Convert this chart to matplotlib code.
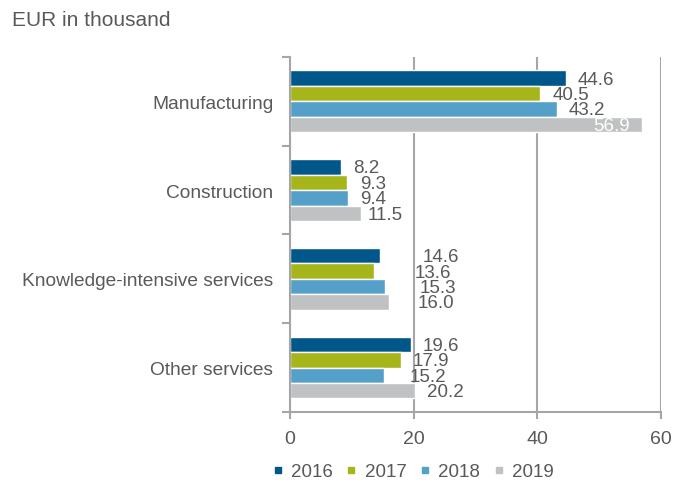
import numpy as np
import matplotlib.pyplot as plt
from matplotlib.lines import Line2D

plt.rcParams['font.family'] = ['Liberation Sans', 'DejaVu Sans']

# turnover per employee, EUR in thousand
sectors = ['Manufacturing', 'Construction', 'Knowledge-intensive services', 'Other services']
years = ['2016', '2017', '2018', '2019']
v2016 = [44.6, 8.2, 14.6, 19.6]
v2017 = [40.5, 9.3, 13.6, 17.9]
v2018 = [43.2, 9.4, 15.3, 15.2]
v2019 = [56.9, 11.5, 16.0, 20.2]
series = [v2016, v2017, v2018, v2019]

colors = ['#00578a', '#a5b51a', '#55a0c8', '#bfc1c3']
grey = '#a6a6a6'
txt = '#595959'

# label shift from the bar end (data units), per year then per sector
lab_dx = [[2.0, 2.0, 6.8, 1.9],
          [1.9, 2.0, 6.5, 2.0],
          [1.8, 1.9, 5.6, 4.2],
          [-1.9, 1.0, 4.7, 2.0]]

fig = plt.figure(figsize=(6.86, 4.81), dpi=100)
ax = fig.add_axes([0.4227, 0.1414, 0.5408, 0.738])

y = np.arange(len(sectors))
h = 0.174
for i, (vals, c) in enumerate(zip(series, colors)):
    pos = y + (i - 1.5) * h
    ax.barh(pos, vals, height=h, color=c, edgecolor='white', linewidth=1.0,
            label=years[i], zorder=3)
    for p, v, dx in zip(pos, vals, lab_dx[i]):
        inside = dx < 0
        ax.text(v + dx, p + 0.01, f'{v:.1f}', ha='right' if inside else 'left',
                va='center', fontsize=13.5, color='white' if inside else txt,
                zorder=4)

ax.set_xlim(0, 60)
ax.set_ylim(3.5, -0.5)
ax.set_xticks([0, 20, 40, 60])
ax.set_yticks(y)
ax.set_yticklabels(sectors)
ax.set_yticks(np.arange(-0.5, 4.0, 1.0), minor=True)
ax.tick_params(axis='y', which='major', length=0, pad=12, labelsize=13.8, labelcolor=txt)
ax.tick_params(axis='y', which='minor', length=6, width=1.5, color=grey)
ax.tick_params(axis='x', length=5, width=1.5, color=grey, pad=8, labelsize=14, labelcolor=txt)
ax.grid(axis='x', color=grey, linewidth=1.5, zorder=0)
for s in ['top', 'right']:
    ax.spines[s].set_visible(False)
for s in ['left', 'bottom']:
    ax.spines[s].set_color(grey)
    ax.spines[s].set_linewidth(1.5)
    ax.spines[s].set_zorder(5)

handles = [Line2D([], [], marker='s', linestyle='none', markersize=4.5,
                  markerfacecolor=c, markeredgecolor=c) for c in colors]
fig.legend(handles, years, loc='center', bbox_to_anchor=(0.602, 0.017),
           ncol=4, frameon=False, fontsize=13.5, labelcolor=txt,
           handletextpad=0.4, columnspacing=0.7, handlelength=0.6)

fig.text(0.017, 0.957, 'EUR in thousand', fontsize=15, color=txt, va='center')

fig.savefig('out.png', dpi=100)
